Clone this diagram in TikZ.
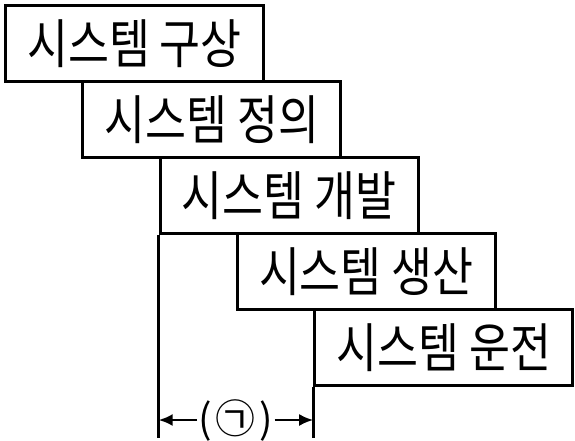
\documentclass[tikz,border=0pt]{standalone}
\usepackage{fontspec}
\newfontfamily\kofont{Noto Sans CJK KR}[FakeStretch=0.84]
\newfontfamily\kolabel{Noto Sans CJK KR}
\usetikzlibrary{arrows.meta,calc}

\tikzset{
  stage/.style={draw,line width=3pt,anchor=north west,inner sep=0pt,
    minimum width=258pt,minimum height=76pt,font=\kofont\fontsize{53}{60}\selectfont},
  edge/.style={line width=3pt},
  gaparrow/.style={-{Latex[length=14pt,width=12pt]},line width=2.5pt}
}

\begin{document}
\begin{tikzpicture}[x=1pt,y=-1pt]
\useasboundingbox (0,0) rectangle (575,440);
% stages of the system life cycle
\foreach \i/\n/\t in {0/gusang/구상,1/jeongui/정의,2/gaebal/개발,3/saengsan/생산,4/unjeon/운전}{
\node[stage] (\n) at (4+77.3*\i,4+76*\i) {시스템 \t};
}
% extended edges
\path (gaebal.south west) ++(0,203) coordinate (lowL);
\path (unjeon.south west |- lowL) coordinate (lowR);
\draw[edge] (gaebal.south west) -- (lowL);
\draw[edge] (unjeon.south west) -- (lowR);
% interval label
\node[font=\kolabel\fontsize{40}{44}\selectfont,inner sep=1pt] (gap) at ($(lowL)!0.5!(lowR)+(0,-18)$) {(\kern4pt㉠\kern4pt)};
\draw[gaparrow] (gap.west) -- (gap.west -| lowL);
\draw[gaparrow] (gap.east) -- (gap.east -| lowR);
\end{tikzpicture}
\end{document}
